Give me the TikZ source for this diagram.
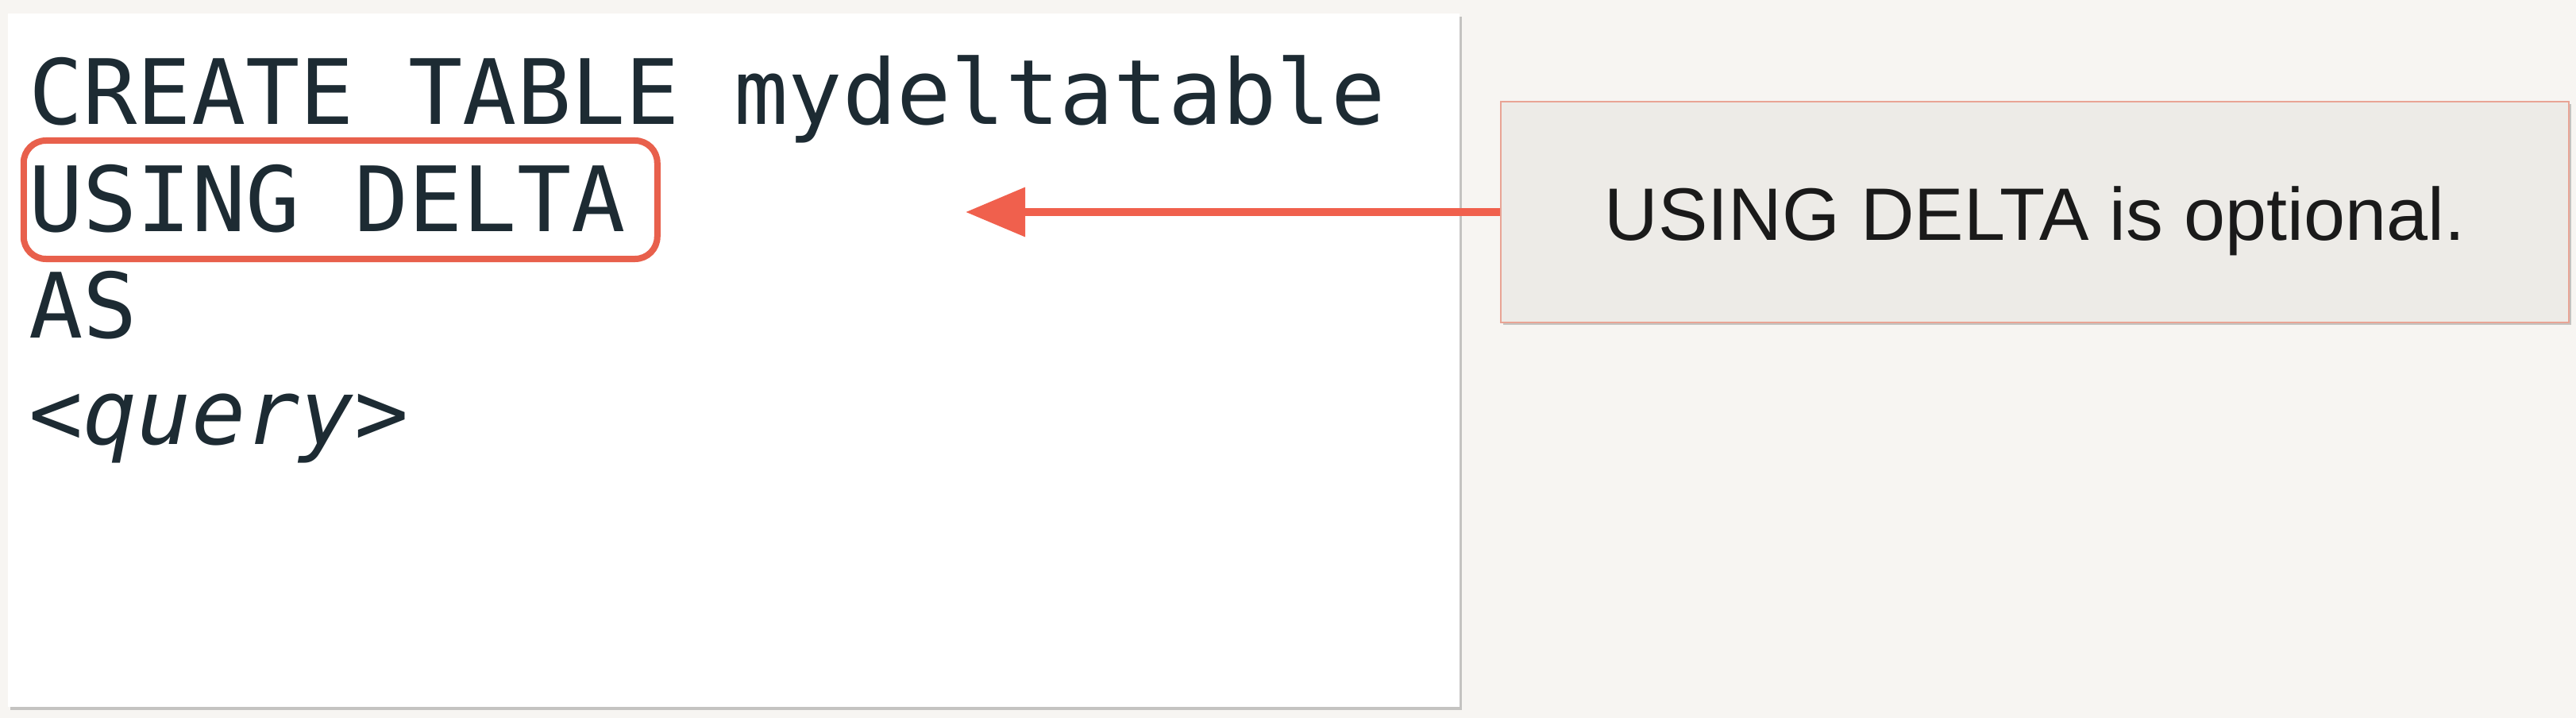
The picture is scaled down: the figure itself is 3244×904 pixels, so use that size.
\documentclass[tikz,border=0pt]{standalone}
\usepackage{fontspec}
\setmainfont{Liberation Sans}
\newfontfamily\codefont{DejaVu Sans Mono}
\usetikzlibrary{arrows.meta,shadows}
\definecolor{bgcol}{HTML}{F7F5F2}
\definecolor{codecol}{HTML}{1D2B33}
\definecolor{hlred}{HTML}{E8604C}
\definecolor{arrred}{HTML}{F0604D}
\definecolor{boxfill}{HTML}{EDEBE7}
\definecolor{boxedge}{HTML}{E9A495}
\definecolor{txtcol}{HTML}{1A1A1A}
\begin{document}
\begin{tikzpicture}[x=1pt,y=-1pt,
  codeline/.style={anchor=base west,inner sep=0pt,text=codecol,
    font={\codefont\fontsize{113.5}{120}\selectfont}},
  panel/.style={fill=white,draw=none,
    drop shadow={shadow xshift=3pt,shadow yshift=-4pt,opacity=0.35,fill=black!60}},
  hlbox/.style={draw=hlred,line width=8pt,rounded corners=28pt,
    minimum width=798pt,minimum height=149pt,inner sep=0pt},
  calloutbox/.style={fill=boxfill,draw=boxedge,line width=2pt,
    minimum width=1345pt,minimum height=278pt,inner sep=0pt,
    drop shadow={shadow xshift=3pt,shadow yshift=-3pt,opacity=0.35,fill=black!60}},
  callouttext/.style={anchor=base,inner sep=0pt,text=txtcol,
    font={\fontsize{93.6}{100}\selectfont}},
  pointer/.style={draw=arrred,line width=10pt,
    -{Triangle[length=75pt,width=60pt]}}
]
% background
\fill[bgcol] (0,0) rectangle (3244,904);
\useasboundingbox (0,0) rectangle (3244,904);
% code panel
\node[panel,minimum width=1828pt,minimum height=873pt,inner sep=0pt] (codepanel) at (924,453.5) {};
% code lines
\node[codeline] (l1) at (36,157) {CREATE TABLE mydeltatable};
\node[codeline] (l2) at (36,291) {USING DELTA};
\node[codeline] (l3) at (36,425) {AS};
\node[codeline] (l4) at (36,559) {\itshape <query>};
% highlight
\node[hlbox] (hl) at (428.75,251.5) {};
% callout
\node[calloutbox] (cb) at (2562.5,267) {};
\node[callouttext] (ct) at (2562.5,302) {USING DELTA is optional.};
% arrow
\coordinate (tip) at (1216,267);
\draw[pointer] (cb.west) -- (tip);
\end{tikzpicture}
\end{document}
